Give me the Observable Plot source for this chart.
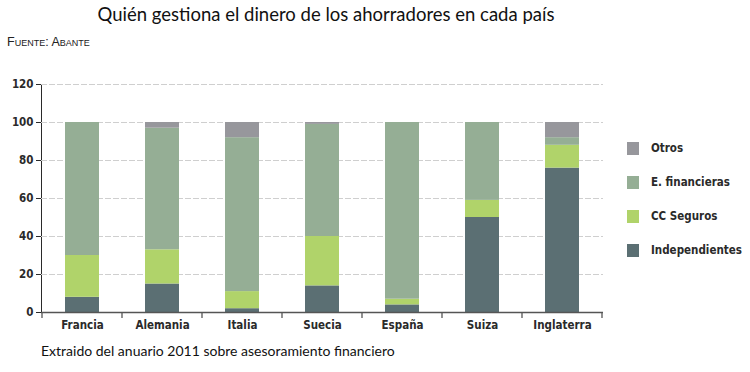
<!DOCTYPE html>
<html>
<head>
<meta charset="utf-8">
<script src="https://cdn.jsdelivr.net/npm/d3@7"></script>
<script src="https://cdn.jsdelivr.net/npm/@observablehq/plot@0.6"></script>
<style>
  html, body { margin: 0; padding: 0; background: #fff; }
  #wrap { position: relative; width: 750px; height: 372px; overflow: hidden; }
  #title { position: absolute; left: 0; width: 652px; top: 3px; text-align: center;
           font-family: Lato, "Open Sans", sans-serif; font-size: 18.5px; color: #111; }
  #source { position: absolute; left: 7px; top: 35px; font-family: "Liberation Sans Narrow", "Liberation Sans", sans-serif;
            font-size: 12.5px; font-variant: small-caps; color: #222; }
  #caption { position: absolute; left: 41px; top: 342px; font-family: Lato, "Open Sans", sans-serif;
             font-size: 14px; color: #111; }
  .leg { position: absolute; left: 627px; height: 13px; font-family: "DejaVu Sans Condensed", "DejaVu Sans", sans-serif;
         font-size: 11.5px; font-weight: bold; color: #2a2a2a; white-space: nowrap; }
  .leg .sw { position: absolute; left: 0; top: 0; width: 12px; height: 13px; }
  .leg .lb { position: absolute; left: 24px; top: -1px; }
  #chart { position: absolute; left: 0; top: 0; }
</style>
</head>
<body>
<div id="wrap">
  <div id="chart"></div>
  <div id="title">Quién gestiona el dinero de los ahorradores en cada país</div>
  <div id="source">Fuente: Abante</div>
  <div id="caption">Extraido del anuario 2011 sobre asesoramiento financiero</div>
</div>
<script>
// ---- data ----
const categories = ["Francia", "Alemania", "Italia", "Suecia", "España", "Suiza", "Inglaterra"];
const independientes = [8, 15, 2, 14, 4, 50, 76];
const ccSeguros = [22, 18, 9, 26, 3, 9, 12];
const eFinancieras = [70, 64, 81, 59, 93, 41, 4];
const otros = [0, 3, 8, 1, 0, 0, 8];
const seriesNames = ["Independientes", "CC Seguros", "E. financieras", "Otros"];
const seriesColors = ["#5b6f73", "#b0d36a", "#95ae95", "#97979c"];
const yTicks = [0, 20, 40, 60, 80, 100, 120];

const seriesValues = [independientes, ccSeguros, eFinancieras, otros];
const rows = [];
seriesNames.forEach((s, si) => {
  categories.forEach((c, ci) => rows.push({pais: c, serie: s, valor: seriesValues[si][ci]}));
});

const font = '"DejaVu Sans Condensed", "DejaVu Sans", sans-serif';

const plot = Plot.plot({
  width: 750,
  height: 372,
  marginTop: 84,
  marginBottom: 60,
  marginLeft: 41,
  marginRight: 147,
  style: {fontFamily: font, fontSize: "11.5px", fontWeight: "bold", color: "#2a2a2a", background: "#fff"},
  x: {domain: categories, padding: 0, tickSize: 0, tickPadding: 8, label: null},
  y: {domain: [0, 120], ticks: yTicks, tickSize: 5, tickPadding: 3, label: null, line: true},
  color: {domain: seriesNames, range: seriesColors},
  marks: [
    Plot.ruleY(yTicks.filter(v => v > 0), {stroke: "#cfcfcf", strokeDasharray: "6,2"}),
    Plot.barY(rows, Plot.stackY({order: seriesNames}, {
      x: "pais", y: "valor", fill: "serie", insetLeft: 23, insetRight: 23
    })),
    Plot.ruleY([0], {stroke: "#555", strokeWidth: 1.3})
  ]
});
document.getElementById("chart").appendChild(plot);

// boundary ticks under x axis, from the library's scales
const xs = plot.scale("x"), ys = plot.scale("y");
const y0 = ys.apply(0);
const starts = categories.map(c => xs.apply(c));
starts.push(xs.apply(categories[categories.length - 1]) + xs.step);
d3.select(plot).append("g")
  .selectAll("line").data(starts).join("line")
  .attr("x1", d => d).attr("x2", d => d)
  .attr("y1", y0).attr("y2", y0 + 6)
  .attr("stroke", "#555").attr("stroke-width", 1.3);
d3.select(plot).selectAll("[aria-label='y-axis line'] path, [aria-label='y-axis line'] line")
  .attr("stroke", "#555").attr("stroke-width", 1.3);

// legend (top to bottom: reversed stack order)
const legTops = [142, 176, 210, 244];
const wrap = document.getElementById("wrap");
seriesNames.slice().reverse().forEach((s, i) => {
  const col = seriesColors[seriesNames.indexOf(s)];
  const d = document.createElement("div");
  d.className = "leg";
  d.style.top = legTops[i] + "px";
  d.innerHTML = `<span class="sw" style="background:${col}"></span><span class="lb">${s}</span>`;
  wrap.appendChild(d);
});
</script>
</body>
</html>
